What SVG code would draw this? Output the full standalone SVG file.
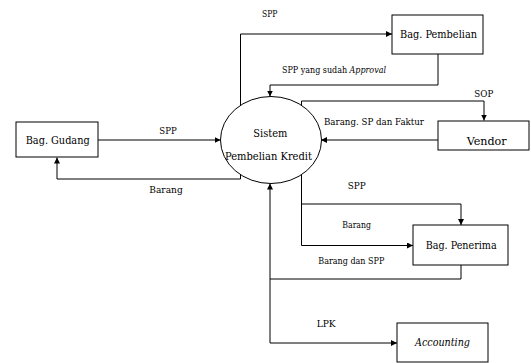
<svg xmlns="http://www.w3.org/2000/svg" width="531" height="363" viewBox="0 0 531 363">
<style>
.box{fill:#fff;stroke:#000;stroke-width:1}
.ln{fill:none;stroke:#000;stroke-width:1}
text{font-family:'DejaVu Serif Condensed','DejaVu Serif',serif;fill:#000}
.n{font-size:11px}
.s{font-size:9px}
.i{font-style:italic}
</style>
<defs>
<marker id="ah" markerUnits="userSpaceOnUse" markerWidth="6" markerHeight="6" refX="6" refY="3" orient="auto">
<path d="M0,0 L6,3 L0,6 z" fill="#000"/>
</marker>
</defs>
<rect width="531" height="363" fill="#fff"/>
<g id="connectors">
<path class="ln" d="M98,140 H220.5" marker-end="url(#ah)"/>
<path class="ln" d="M240.5,174.5 V179 H57 V157.5" marker-end="url(#ah)"/>
<path class="ln" d="M240.5,105.5 V34 H392" marker-end="url(#ah)"/>
<path class="ln" d="M438,54 V85 H270 V96.5" marker-end="url(#ah)"/>
<path class="ln" d="M301.5,106 V101 H484 V120.5" marker-end="url(#ah)"/>
<path class="ln" d="M438,140 H321" marker-end="url(#ah)"/>
<path class="ln" d="M301.5,174.5 V204 H461 V225" marker-end="url(#ah)"/>
<path class="ln" d="M301.5,204 V245.5 H413" marker-end="url(#ah)"/>
<path class="ln" d="M461,265 V279 H270"/>
<path class="ln" d="M270,343 V183.5" marker-end="url(#ah)"/>
<path class="ln" d="M270,343 H397" marker-end="url(#ah)"/>
<text class="s" x="262" y="17" textLength="15.5" lengthAdjust="spacingAndGlyphs">SPP</text>
<text class="s" x="282" y="73" textLength="104" lengthAdjust="spacingAndGlyphs">SPP yang sudah <tspan class="i">Approval</tspan></text>
<text class="s" x="474.3" y="97" textLength="19" lengthAdjust="spacingAndGlyphs">SOP</text>
<text style="font-size:9.5px" x="324" y="125" textLength="100" lengthAdjust="spacingAndGlyphs">Barang. SP dan Faktur</text>
<text class="s" x="159.3" y="134" textLength="17.4" lengthAdjust="spacingAndGlyphs">SPP</text>
<text style="font-size:10px" x="149.3" y="192.5" textLength="33.4" lengthAdjust="spacingAndGlyphs">Barang</text>
<text class="s" x="347.7" y="189" textLength="18" lengthAdjust="spacingAndGlyphs">SPP</text>
<text class="s" x="342.3" y="227.5" textLength="28.7" lengthAdjust="spacingAndGlyphs">Barang</text>
<text class="s" x="318.3" y="264" textLength="66" lengthAdjust="spacingAndGlyphs">Barang dan SPP</text>
<text class="s" x="316.7" y="326.5" textLength="19" lengthAdjust="spacingAndGlyphs">LPK</text>
</g>
<g id="sistem">
<ellipse class="box" cx="271" cy="140" rx="50.5" ry="43.5"/>
<text class="n" x="253.3" y="137" textLength="34" lengthAdjust="spacingAndGlyphs">Sistem</text>
<text class="n" x="225" y="160" textLength="87" lengthAdjust="spacingAndGlyphs">Pembelian Kredit</text>
</g>
<g id="gudang">
<rect class="box" x="16" y="122" width="82" height="35"/>
<text class="n" x="25.7" y="143.5" textLength="64" lengthAdjust="spacingAndGlyphs">Bag. Gudang</text>
</g>
<g id="pembelian">
<rect class="box" x="392" y="15" width="91" height="39"/>
<text class="n" x="400" y="38" textLength="77" lengthAdjust="spacingAndGlyphs">Bag. Pembelian</text>
</g>
<g id="vendor">
<rect class="box" x="438" y="121" width="91" height="29"/>
<text style="font-size:11.5px" x="466.7" y="145" textLength="40" lengthAdjust="spacingAndGlyphs">Vendor</text>
</g>
<g id="penerima">
<rect class="box" x="413" y="225" width="95" height="40"/>
<text class="n" x="425.7" y="248.5" textLength="71" lengthAdjust="spacingAndGlyphs">Bag. Penerima</text>
</g>
<g id="accounting">
<rect class="box" x="397" y="323" width="91" height="39"/>
<text class="n i" x="415" y="346" textLength="55" lengthAdjust="spacingAndGlyphs">Accounting</text>
</g>
</svg>
